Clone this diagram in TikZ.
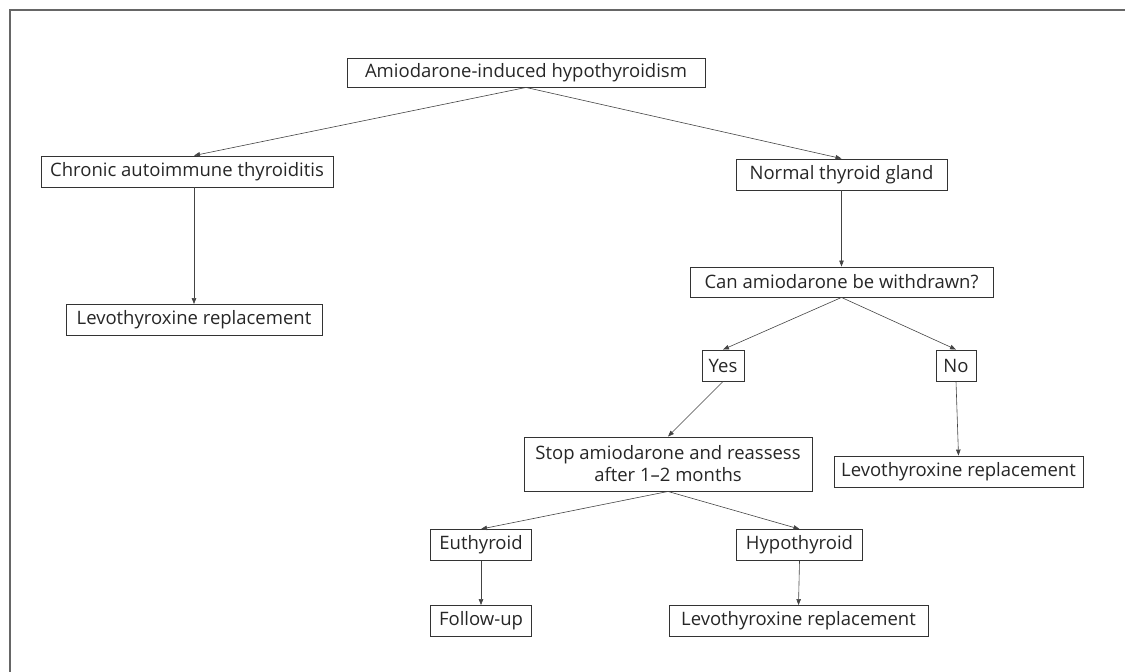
\documentclass[tikz,border=0pt]{standalone}
\usepackage{fontspec}
\setmainfont{Open Sans}
\usepackage{xcolor}
\usetikzlibrary{arrows.meta}
\definecolor{framecolor}{HTML}{666666}
\definecolor{boxcolor}{HTML}{333333}
\definecolor{linecolor}{HTML}{444444}
\tikzstyle{stepbox} = [
    draw=boxcolor,
    line width=0.9pt,
    rectangle,
    text=black!85,
    font=\fontsize{18.5}{22}\selectfont,
    inner xsep=4pt,
    inner ysep=0pt,
    minimum height=31pt,
    align=center
    ]
\tikzstyle{arr} = [
    draw=linecolor,
    line width=0.6pt,
    -{Triangle[length=6pt,width=4.5pt]}
    ]

\begin{document}
\begin{tikzpicture}[x=1pt,y=-1pt]
\useasboundingbox (0,0) rectangle (1125,672);
\draw[framecolor, line width=2pt] (9.5,672) -- (9.5,9.5) -- (1125,9.5);

% top level
\node[stepbox, minimum width=358pt, minimum height=29pt] (induced) at (526,72.5) {Amiodarone-induced hypothyroidism};
\node[stepbox, minimum width=292pt] (chronic) at (187,171.5) {Chronic autoimmune thyroiditis};
\node[stepbox, minimum width=256pt] (levoA) at (194,320) {Levothyroxine replacement};
\node[stepbox, minimum width=211pt] (normal) at (841.5,174.5) {Normal thyroid gland};
\node[stepbox, minimum width=303pt, minimum height=30pt] (withdraw) at (841.5,282) {Can amiodarone be withdrawn?};

% decision
\node[stepbox, minimum width=42pt] (yes) at (723,365.5) {Yes};
\node[stepbox, minimum width=40pt] (no) at (956,365.5) {No};
\node[stepbox, minimum width=249pt] (levoB) at (958.5,471.5) {Levothyroxine replacement};
\node[stepbox, minimum width=288pt, minimum height=54pt] (stop) at (668,464) {Stop amiodarone and reassess\\after 1--2 months};

% reassessment
\node[stepbox, minimum width=101pt] (euthyroid) at (481,545) {Euthyroid};
\node[stepbox, minimum width=126pt] (hypo) at (799.5,545) {Hypothyroid};
\node[stepbox, minimum width=101pt] (followup) at (481,621) {Follow-up};
\node[stepbox, minimum width=259pt] (levoC) at (798.5,621) {Levothyroxine replacement};

\draw[arr] (induced.south) -- (chronic.north -| levoA);
\draw[arr] (induced.south) -- (normal.north);
\draw[arr] (chronic.south -| levoA) -- (levoA.north);
\draw[arr] (normal.south) -- (withdraw.north);
\draw[arr] (withdraw.south) -- (yes.north);
\draw[arr] (withdraw.south) -- (no.north);
\draw[arr] (no.south) -- (levoB.north);
\draw[arr] (yes.south) -- (stop.north);
\draw[arr] (stop.south) -- (euthyroid.north);
\draw[arr] (stop.south) -- (hypo.north);
\draw[arr] (euthyroid.south) -- (followup.north);
\draw[arr] (hypo.south) -- (levoC.north);
\end{tikzpicture}
\end{document}
